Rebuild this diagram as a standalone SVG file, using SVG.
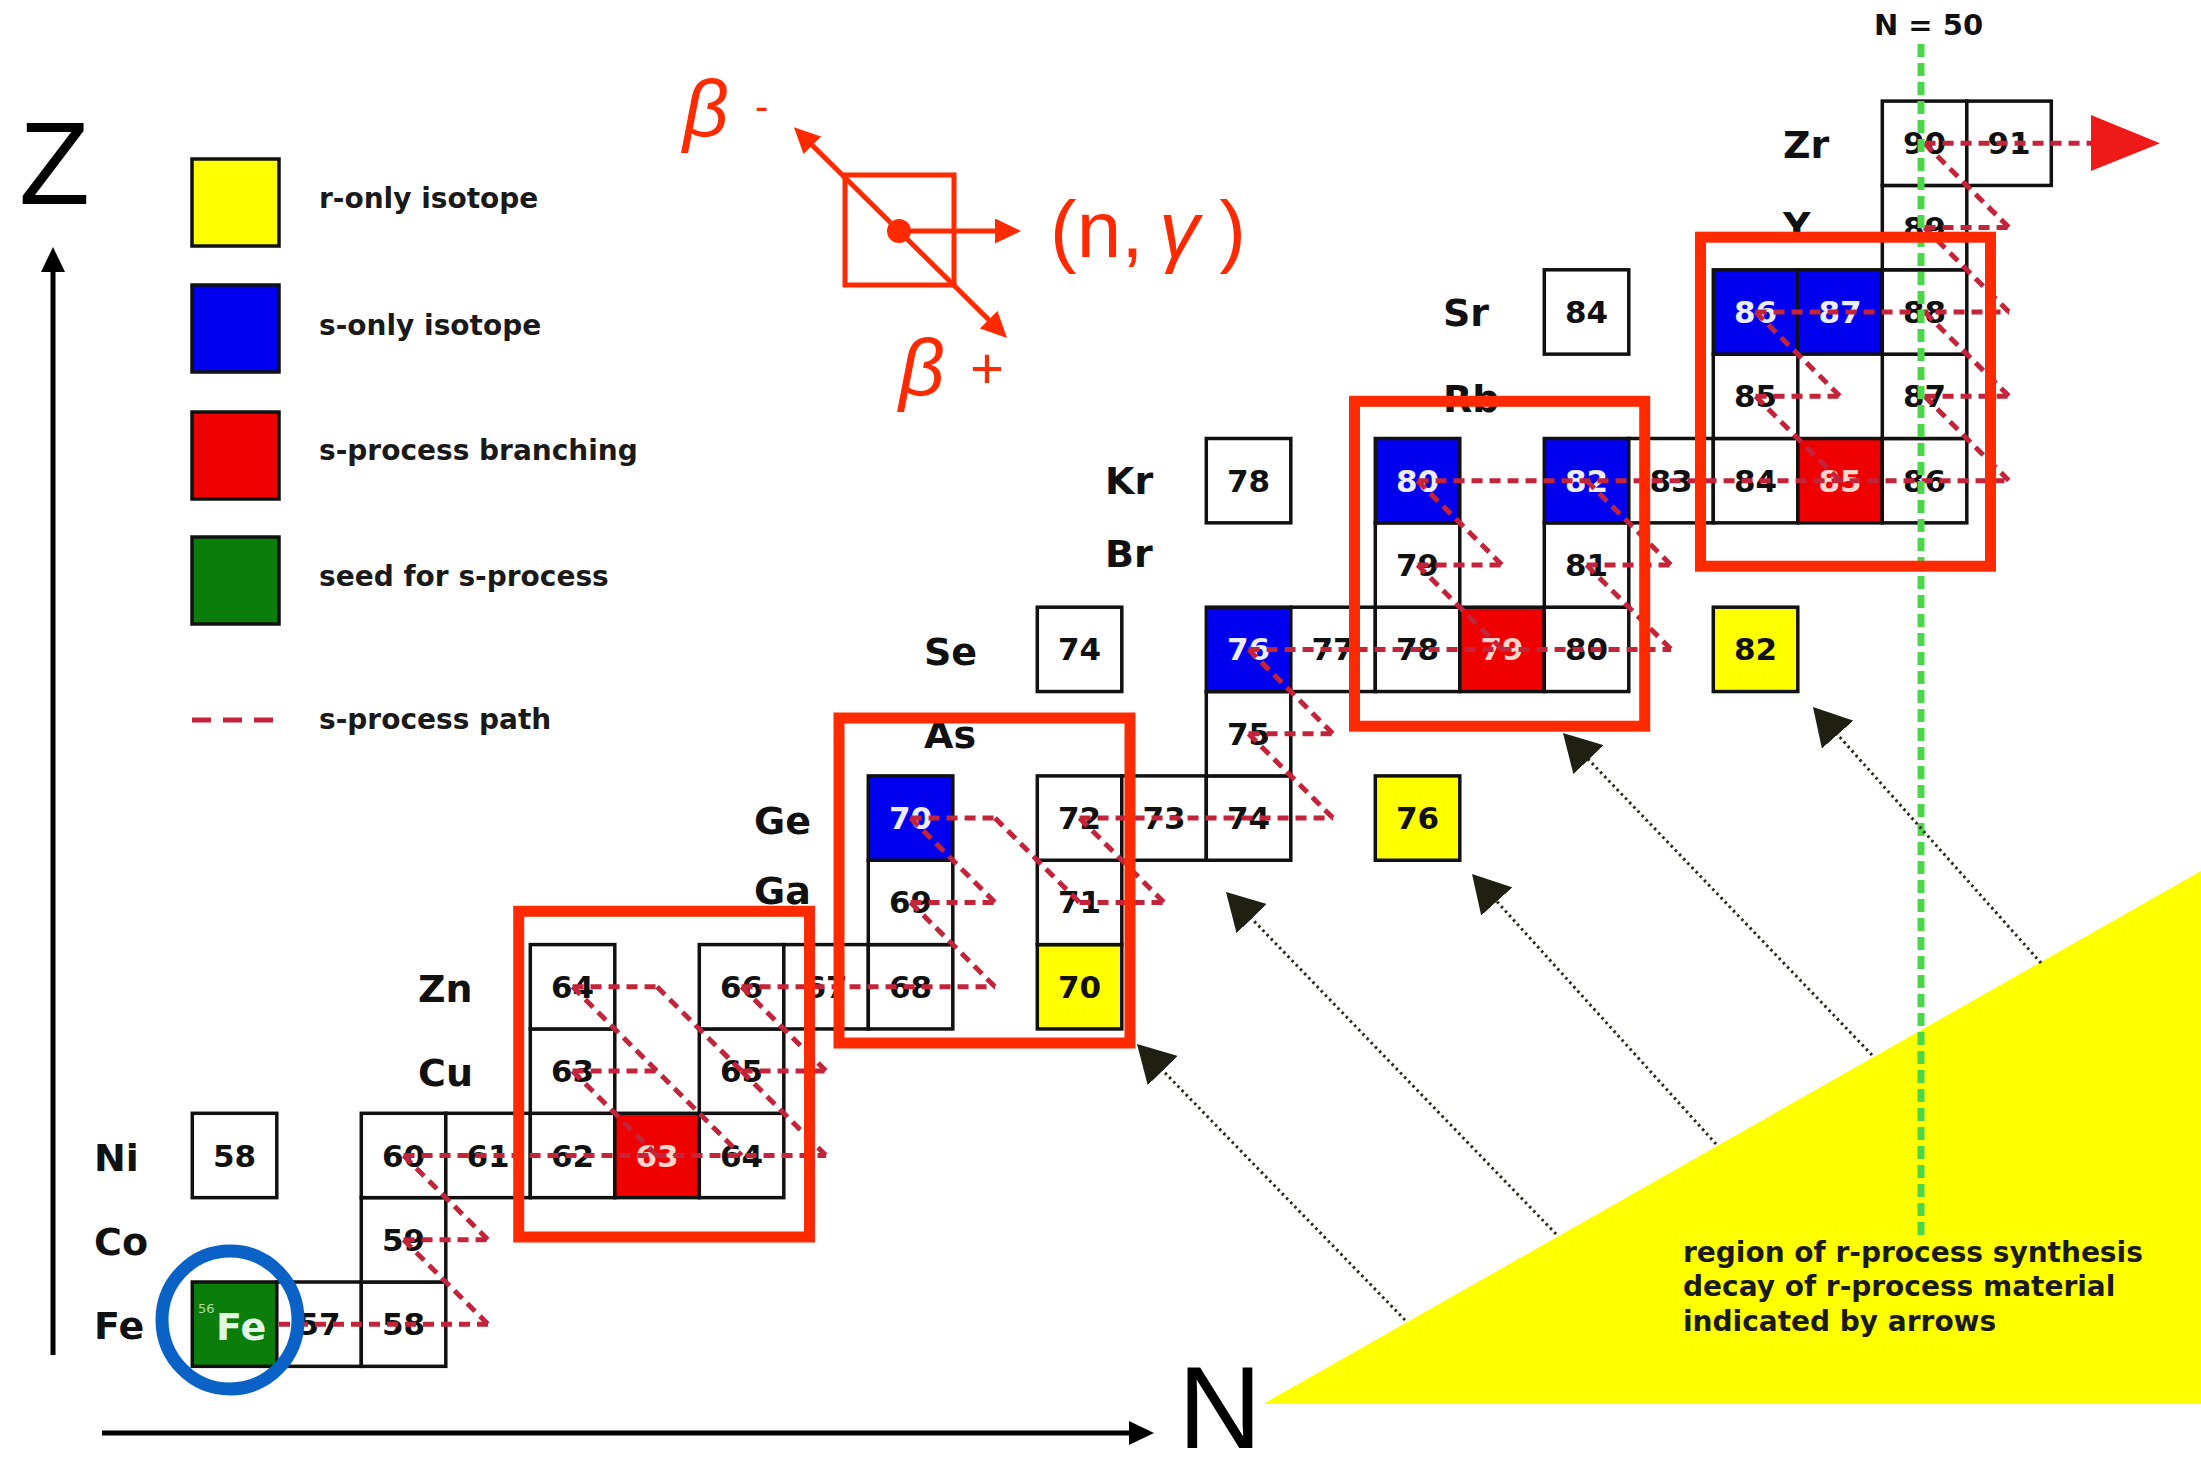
<svg xmlns="http://www.w3.org/2000/svg" width="2201" height="1474" viewBox="0 0 2201 1474">
<style>
.c{stroke:#111;stroke-width:3.5;fill:#fff}
.cy{fill:#ffff00}.cb{fill:#0000ee}.cr{fill:#ee0000}.cg{fill:#0a7d0a}
.n{font-family:"DejaVu Sans",sans-serif;font-weight:bold;font-size:31px;text-anchor:middle;fill:#111}
.nw{fill:#ececff}.nr{fill:#ffd6cc}
.el{font-family:"DejaVu Sans",sans-serif;font-weight:bold;font-size:38px;fill:#111}
.fe{fill:#e2f7e2}
.lg{font-family:"DejaVu Sans",sans-serif;font-weight:bold;font-size:28px;fill:#1a1a1a}
.sp{stroke:#c4243a;stroke-width:5;stroke-dasharray:11 7;fill:none}
.hl{fill:none;stroke:#ff2a00;stroke-width:11}
.dec{stroke:#2a2a1a;stroke-width:3;stroke-dasharray:2.5 3.5;fill:none;marker-end:url(#bh)}
.rl{stroke:#ff2a00;stroke-width:5;fill:none;marker-end:url(#rh)}
.bt{font-family:"Liberation Sans",sans-serif;fill:#ff2a00}
.ax{stroke:#000;stroke-width:5;fill:none;marker-end:url(#ah)}
.big{font-family:"Liberation Sans",sans-serif;font-size:116px;fill:#000}
</style>
<defs>
<marker id="bh" markerUnits="userSpaceOnUse" markerWidth="37" markerHeight="42" refX="3" refY="21" orient="auto"><path d="M0,0 L37,21 L0,42 z" fill="#1f1f12"/></marker>
<marker id="rh" markerUnits="userSpaceOnUse" markerWidth="26" markerHeight="25" refX="2" refY="12.5" orient="auto"><path d="M0,0 L26,12.5 L0,25 z" fill="#ff2a00"/></marker>
<marker id="ah" markerUnits="userSpaceOnUse" markerWidth="25" markerHeight="24" refX="2" refY="12" orient="auto"><path d="M0,0 L25,12 L0,24 z" fill="#000"/></marker>
</defs>
<rect width="2201" height="1474" fill="#fff"/>

<!-- r-process region -->
<g id="r-region">
<polygon points="1263,1404 2201,871 2201,1404" fill="#ffff00"/>
<text class="lg" x="1683" y="1262">region of r-process synthesis</text>
<text class="lg" x="1683" y="1296">decay of r-process material</text>
<text class="lg" x="1683" y="1331">indicated by arrows</text>
</g>

<!-- axes -->
<g id="axes">
<line class="ax" x1="53" y1="1355" x2="53" y2="270"/>
<line class="ax" x1="102" y1="1433" x2="1131" y2="1433"/>
<text class="big" x="19" y="204">Z</text>
<text class="big" x="1178" y="1448" font-size="110">N</text>
</g>

<!-- legend -->
<g id="legend">
<rect class="c cy" x="192" y="159" width="87" height="87"/>
<text class="lg" x="319" y="208">r-only isotope</text>
<rect class="c cb" x="192" y="285" width="87" height="87"/>
<text class="lg" x="319" y="335">s-only isotope</text>
<rect class="c cr" x="192" y="412" width="87" height="87"/>
<text class="lg" x="319" y="460">s-process branching</text>
<rect class="c cg" x="192" y="537" width="87" height="87"/>
<text class="lg" x="319" y="586">seed for s-process</text>
<line x1="192" y1="720" x2="274" y2="720" stroke="#c4243a" stroke-width="5" stroke-dasharray="19 12"/>
<text class="lg" x="319" y="729">s-process path</text>
</g>

<!-- reaction legend -->
<g id="reaction-legend">
<rect x="845" y="175" width="109" height="110" fill="none" stroke="#ff2a00" stroke-width="5"/>
<line class="rl" x1="899" y1="231" x2="811" y2="144"/>
<line class="rl" x1="899" y1="231" x2="990" y2="321"/>
<line class="rl" x1="899" y1="231" x2="997" y2="231"/>
<circle cx="899" cy="231" r="12" fill="#ff2a00"/>
<text class="bt" x="683" y="136" font-size="80" font-style="italic">β</text>
<text class="bt" x="755" y="120" font-size="40">-</text>
<text class="bt" x="899" y="395" font-size="80" font-style="italic">β</text>
<text class="bt" x="970" y="388" font-size="58">+</text>
<text class="bt" x="1050" y="257" font-size="80">(n,<tspan font-style="italic" dx="16">γ</tspan><tspan dx="20">)</tspan></text>
</g>

<!-- element labels -->
<g id="labels">
<text class="el" x="94" y="1339">Fe</text>
<text class="el" x="94" y="1255">Co</text>
<text class="el" x="94" y="1171">Ni</text>
<text class="el" x="418" y="1086">Cu</text>
<text class="el" x="418" y="1002">Zn</text>
<text class="el" x="754" y="904">Ga</text>
<text class="el" x="754" y="834">Ge</text>
<text class="el" x="924" y="748">As</text>
<text class="el" x="924" y="665">Se</text>
<text class="el" x="1105" y="567">Br</text>
<text class="el" x="1105" y="494">Kr</text>
<text class="el" x="1443" y="412">Rb</text>
<text class="el" x="1443" y="326">Sr</text>
<text class="el" x="1783" y="239">Y</text>
<text class="el" x="1783" y="158">Zr</text>
</g>

<!-- nuclide nodes -->
<g id="Fe56"><rect class="c cg" x="192.3" y="1282" width="84.5" height="84.35"/><text x="198" y="1313" font-family="DejaVu Sans,sans-serif" font-size="13" fill="#a8e0a8">56</text><text class="el fe" x="216" y="1340">Fe</text></g>
<g id="Fe57"><rect class="c" x="276.8" y="1282" width="84.5" height="84.35"/><text class="n" x="319.05" y="1335.2">57</text></g>
<g id="Fe58"><rect class="c" x="361.3" y="1282" width="84.5" height="84.35"/><text class="n" x="403.55" y="1335.2">58</text></g>
<g id="Co59"><rect class="c" x="361.3" y="1197.65" width="84.5" height="84.35"/><text class="n" x="403.55" y="1250.8">59</text></g>
<g id="Ni58"><rect class="c" x="192.3" y="1113.3" width="84.5" height="84.35"/><text class="n" x="234.55" y="1166.5">58</text></g>
<g id="Ni60"><rect class="c" x="361.3" y="1113.3" width="84.5" height="84.35"/><text class="n" x="403.55" y="1166.5">60</text></g>
<g id="Ni61"><rect class="c" x="445.8" y="1113.3" width="84.5" height="84.35"/><text class="n" x="488.05" y="1166.5">61</text></g>
<g id="Ni62"><rect class="c" x="530.3" y="1113.3" width="84.5" height="84.35"/><text class="n" x="572.55" y="1166.5">62</text></g>
<g id="Ni63"><rect class="c cr" x="614.8" y="1113.3" width="84.5" height="84.35"/><text class="n nr" x="657.05" y="1166.5">63</text></g>
<g id="Ni64"><rect class="c" x="699.3" y="1113.3" width="84.5" height="84.35"/><text class="n" x="741.55" y="1166.5">64</text></g>
<g id="Cu63"><rect class="c" x="530.3" y="1028.95" width="84.5" height="84.35"/><text class="n" x="572.55" y="1082.1">63</text></g>
<g id="Cu65"><rect class="c" x="699.3" y="1028.95" width="84.5" height="84.35"/><text class="n" x="741.55" y="1082.1">65</text></g>
<g id="Zn64"><rect class="c" x="530.3" y="944.6" width="84.5" height="84.35"/><text class="n" x="572.55" y="997.8">64</text></g>
<g id="Zn66"><rect class="c" x="699.3" y="944.6" width="84.5" height="84.35"/><text class="n" x="741.55" y="997.8">66</text></g>
<g id="Zn67"><rect class="c" x="783.8" y="944.6" width="84.5" height="84.35"/><text class="n" x="826.05" y="997.8">67</text></g>
<g id="Zn68"><rect class="c" x="868.3" y="944.6" width="84.5" height="84.35"/><text class="n" x="910.55" y="997.8">68</text></g>
<g id="Zn70"><rect class="c cy" x="1037.3" y="944.6" width="84.5" height="84.35"/><text class="n" x="1079.55" y="997.8">70</text></g>
<g id="Ga69"><rect class="c" x="868.3" y="860.25" width="84.5" height="84.35"/><text class="n" x="910.55" y="913.4">69</text></g>
<g id="Ga71"><rect class="c" x="1037.3" y="860.25" width="84.5" height="84.35"/><text class="n" x="1079.55" y="913.4">71</text></g>
<g id="Ge70"><rect class="c cb" x="868.3" y="775.9" width="84.5" height="84.35"/><text class="n nw" x="910.55" y="829.1">70</text></g>
<g id="Ge72"><rect class="c" x="1037.3" y="775.9" width="84.5" height="84.35"/><text class="n" x="1079.55" y="829.1">72</text></g>
<g id="Ge73"><rect class="c" x="1121.8" y="775.9" width="84.5" height="84.35"/><text class="n" x="1164.05" y="829.1">73</text></g>
<g id="Ge74"><rect class="c" x="1206.3" y="775.9" width="84.5" height="84.35"/><text class="n" x="1248.55" y="829.1">74</text></g>
<g id="Ge76"><rect class="c cy" x="1375.3" y="775.9" width="84.5" height="84.35"/><text class="n" x="1417.55" y="829.1">76</text></g>
<g id="As75"><rect class="c" x="1206.3" y="691.55" width="84.5" height="84.35"/><text class="n" x="1248.55" y="744.7">75</text></g>
<g id="Se74"><rect class="c" x="1037.3" y="607.2" width="84.5" height="84.35"/><text class="n" x="1079.55" y="660.4">74</text></g>
<g id="Se76"><rect class="c cb" x="1206.3" y="607.2" width="84.5" height="84.35"/><text class="n nw" x="1248.55" y="660.4">76</text></g>
<g id="Se77"><rect class="c" x="1290.8" y="607.2" width="84.5" height="84.35"/><text class="n" x="1333.05" y="660.4">77</text></g>
<g id="Se78"><rect class="c" x="1375.3" y="607.2" width="84.5" height="84.35"/><text class="n" x="1417.55" y="660.4">78</text></g>
<g id="Se79"><rect class="c cr" x="1459.8" y="607.2" width="84.5" height="84.35"/><text class="n nr" x="1502.05" y="660.4">79</text></g>
<g id="Se80"><rect class="c" x="1544.3" y="607.2" width="84.5" height="84.35"/><text class="n" x="1586.55" y="660.4">80</text></g>
<g id="Se82"><rect class="c cy" x="1713.3" y="607.2" width="84.5" height="84.35"/><text class="n" x="1755.55" y="660.4">82</text></g>
<g id="Br79"><rect class="c" x="1375.3" y="522.85" width="84.5" height="84.35"/><text class="n" x="1417.55" y="576">79</text></g>
<g id="Br81"><rect class="c" x="1544.3" y="522.85" width="84.5" height="84.35"/><text class="n" x="1586.55" y="576">81</text></g>
<g id="Kr78"><rect class="c" x="1206.3" y="438.5" width="84.5" height="84.35"/><text class="n" x="1248.55" y="491.7">78</text></g>
<g id="Kr80"><rect class="c cb" x="1375.3" y="438.5" width="84.5" height="84.35"/><text class="n nw" x="1417.55" y="491.7">80</text></g>
<g id="Kr82"><rect class="c cb" x="1544.3" y="438.5" width="84.5" height="84.35"/><text class="n nw" x="1586.55" y="491.7">82</text></g>
<g id="Kr83"><rect class="c" x="1628.8" y="438.5" width="84.5" height="84.35"/><text class="n" x="1671.05" y="491.7">83</text></g>
<g id="Kr84"><rect class="c" x="1713.3" y="438.5" width="84.5" height="84.35"/><text class="n" x="1755.55" y="491.7">84</text></g>
<g id="Kr85"><rect class="c cr" x="1797.8" y="438.5" width="84.5" height="84.35"/><text class="n nr" x="1840.05" y="491.7">85</text></g>
<g id="Kr86"><rect class="c" x="1882.3" y="438.5" width="84.5" height="84.35"/><text class="n" x="1924.55" y="491.7">86</text></g>
<g id="Rb85"><rect class="c" x="1713.3" y="354.15" width="84.5" height="84.35"/><text class="n" x="1755.55" y="407.3">85</text></g>
<g id="Rb87"><rect class="c" x="1882.3" y="354.15" width="84.5" height="84.35"/><text class="n" x="1924.55" y="407.3">87</text></g>
<g id="Sr84"><rect class="c" x="1544.3" y="269.8" width="84.5" height="84.35"/><text class="n" x="1586.55" y="323">84</text></g>
<g id="Sr86"><rect class="c cb" x="1713.3" y="269.8" width="84.5" height="84.35"/><text class="n nw" x="1755.55" y="323">86</text></g>
<g id="Sr87"><rect class="c cb" x="1797.8" y="269.8" width="84.5" height="84.35"/><text class="n nw" x="1840.05" y="323">87</text></g>
<g id="Sr88"><rect class="c" x="1882.3" y="269.8" width="84.5" height="84.35"/><text class="n" x="1924.55" y="323">88</text></g>
<g id="Y89"><rect class="c" x="1882.3" y="185.45" width="84.5" height="84.35"/><text class="n" x="1924.55" y="238.6">89</text></g>
<g id="Zr90"><rect class="c" x="1882.3" y="101.1" width="84.5" height="84.35"/><text class="n" x="1924.55" y="154.3">90</text></g>
<g id="Zr91"><rect class="c" x="1966.8" y="101.1" width="84.5" height="84.35"/><text class="n" x="2009.05" y="154.3">91</text></g>

<!-- s-process path connectors -->
<g id="s-process-path">
<line class="sp" x1="279" y1="1324.2" x2="488.05" y2="1324.2"/>
<line class="sp" x1="403.55" y1="1239.8" x2="488.05" y2="1239.8"/>
<line class="sp" x1="403.55" y1="1155.5" x2="826.05" y2="1155.5"/>
<line class="sp" x1="572.55" y1="1071.1" x2="657.05" y2="1071.1"/>
<line class="sp" x1="741.55" y1="1071.1" x2="826.05" y2="1071.1"/>
<line class="sp" x1="572.55" y1="986.8" x2="657.05" y2="986.8"/>
<line class="sp" x1="741.55" y1="986.8" x2="995.05" y2="986.8"/>
<line class="sp" x1="910.55" y1="902.4" x2="995.05" y2="902.4"/>
<line class="sp" x1="1079.55" y1="902.4" x2="1164.05" y2="902.4"/>
<line class="sp" x1="910.55" y1="818.1" x2="995.05" y2="818.1"/>
<line class="sp" x1="1079.55" y1="818.1" x2="1333.05" y2="818.1"/>
<line class="sp" x1="1248.55" y1="733.7" x2="1333.05" y2="733.7"/>
<line class="sp" x1="1248.55" y1="649.4" x2="1671.05" y2="649.4"/>
<line class="sp" x1="1417.55" y1="565" x2="1502.05" y2="565"/>
<line class="sp" x1="1586.55" y1="565" x2="1671.05" y2="565"/>
<line class="sp" x1="1417.55" y1="480.7" x2="2009.05" y2="480.7"/>
<line class="sp" x1="1755.55" y1="396.3" x2="1840.05" y2="396.3"/>
<line class="sp" x1="1924.55" y1="396.3" x2="2009.05" y2="396.3"/>
<line class="sp" x1="1755.55" y1="312" x2="2009.05" y2="312"/>
<line class="sp" x1="1924.55" y1="227.6" x2="2009.05" y2="227.6"/>
<line class="sp" x1="1924.55" y1="143.3" x2="2092" y2="143.3"/>
<line class="sp" x1="403.55" y1="1239.8" x2="488.05" y2="1324.2"/>
<line class="sp" x1="403.55" y1="1155.5" x2="488.05" y2="1239.8"/>
<line class="sp" x1="572.55" y1="1071.1" x2="657.05" y2="1155.5"/>
<line class="sp" x1="741.55" y1="1071.1" x2="826.05" y2="1155.5"/>
<line class="sp" x1="572.55" y1="986.8" x2="741.55" y2="1155.5"/>
<line class="sp" x1="657.05" y1="986.8" x2="741.55" y2="1071.1"/>
<line class="sp" x1="741.55" y1="986.8" x2="826.05" y2="1071.1"/>
<line class="sp" x1="910.55" y1="902.4" x2="995.05" y2="986.8"/>
<line class="sp" x1="910.55" y1="818.1" x2="995.05" y2="902.4"/>
<line class="sp" x1="995.05" y1="818.1" x2="1079.55" y2="902.4"/>
<line class="sp" x1="1079.55" y1="818.1" x2="1164.05" y2="902.4"/>
<line class="sp" x1="1248.55" y1="733.7" x2="1333.05" y2="818.1"/>
<line class="sp" x1="1248.55" y1="649.4" x2="1333.05" y2="733.7"/>
<line class="sp" x1="1417.55" y1="565" x2="1502.05" y2="649.4"/>
<line class="sp" x1="1586.55" y1="565" x2="1671.05" y2="649.4"/>
<line class="sp" x1="1417.55" y1="480.7" x2="1502.05" y2="565"/>
<line class="sp" x1="1586.55" y1="480.7" x2="1671.05" y2="565"/>
<line class="sp" x1="1755.55" y1="396.3" x2="1840.05" y2="480.7"/>
<line class="sp" x1="1924.55" y1="396.3" x2="2009.05" y2="480.7"/>
<line class="sp" x1="1755.55" y1="312" x2="1840.05" y2="396.3"/>
<line class="sp" x1="1924.55" y1="312" x2="2009.05" y2="396.3"/>
<line class="sp" x1="1924.55" y1="227.6" x2="2009.05" y2="312"/>
<line class="sp" x1="1924.55" y1="143.3" x2="2009.05" y2="227.6"/>
<polygon points="2091,115 2160,143.3 2091,171" fill="#ee1a1a"/>
</g>

<!-- N = 50 line -->
<g id="n50">
<line x1="1921" y1="44" x2="1921" y2="1235" stroke="#4ad84a" stroke-width="7" stroke-dasharray="13 6"/>
<text x="1874" y="35" font-family="DejaVu Sans,sans-serif" font-weight="bold" font-size="29" fill="#111">N = 50</text>
</g>

<!-- branching highlight boxes -->
<g id="highlights">
<rect class="hl" x="518.7" y="911.3" width="290.8" height="325.7"/>
<rect class="hl" x="839" y="718" width="291" height="325"/>
<rect class="hl" x="1354.5" y="401.3" width="290.2" height="324.9"/>
<rect class="hl" x="1700.5" y="237.2" width="290" height="329"/>
</g>

<!-- seed marker -->
<ellipse id="seed-circle" cx="230" cy="1320" rx="68" ry="69" fill="none" stroke="#0a62c6" stroke-width="13"/>

<!-- r-process decay arrows -->
<g id="decay-arrows">
<line class="dec" x1="1405" y1="1320" x2="1160.7" y2="1068.4"/>
<line class="dec" x1="1556" y1="1234" x2="1249.6" y2="916.5"/>
<line class="dec" x1="1716" y1="1144" x2="1494.8" y2="899.2"/>
<line class="dec" x1="1872" y1="1055" x2="1586.5" y2="757.5"/>
<line class="dec" x1="2041" y1="963" x2="1835.6" y2="732.4"/>
</g>
</svg>
